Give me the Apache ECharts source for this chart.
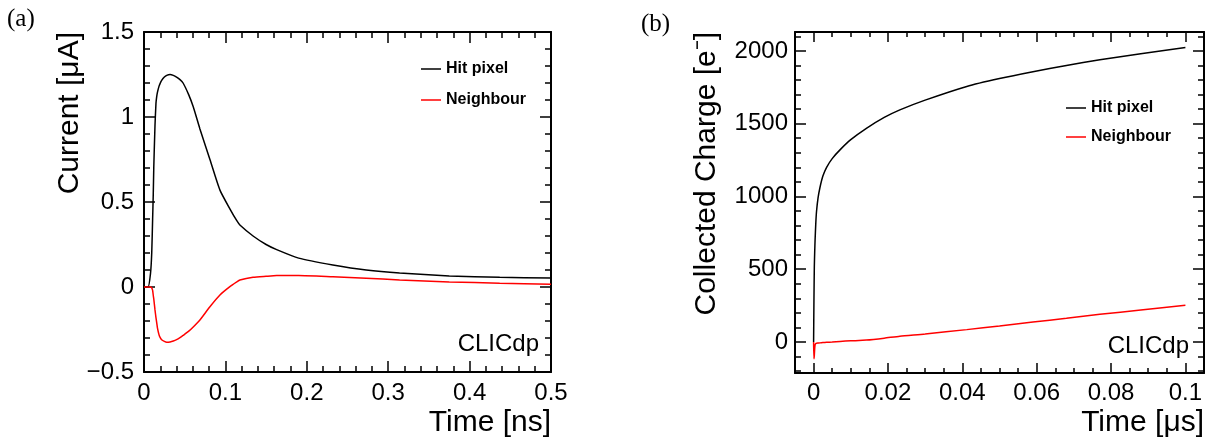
<!DOCTYPE html>
<html><head><meta charset="utf-8">
<script src="https://cdn.jsdelivr.net/npm/echarts@6/dist/echarts.min.js"></script>
<style>html,body{margin:0;padding:0;background:#fff}#c{width:1214px;height:439px}</style>
</head><body><div id="c"></div>
<script>
// ---- Data ----
const seriesNames = ['Hit pixel', 'Neighbour'];
// Panel (a): induced current [uA] vs time [ns]
const timeA = [0, 0.005, 0.008, 0.0095, 0.0106, 0.0114, 0.012, 0.0135, 0.0147, 0.0156, 0.0165, 0.0184, 0.0196, 0.0217, 0.025, 0.0279, 0.032, 0.036, 0.040, 0.0442, 0.048, 0.055, 0.0605, 0.0687, 0.081, 0.0933, 0.1055, 0.114, 0.1178, 0.134, 0.15, 0.163, 0.19, 0.232, 0.273, 0.314, 0.375, 0.437, 0.5];
const hitA = [0, 0, 0.08, 0.2, 0.4, 0.55, 0.7, 0.95, 1.08, 1.12, 1.145, 1.18, 1.195, 1.215, 1.235, 1.245, 1.25, 1.245, 1.235, 1.22, 1.2, 1.13, 1.06, 0.93, 0.75, 0.57, 0.46, 0.39, 0.365, 0.30, 0.25, 0.22, 0.17, 0.13, 0.10, 0.082, 0.065, 0.057, 0.053];
const neighA = [0, 0, 0, -0.005, -0.02, -0.05, -0.07, -0.135, -0.18, -0.21, -0.24, -0.28, -0.295, -0.31, -0.32, -0.325, -0.323, -0.318, -0.31, -0.298, -0.285, -0.26, -0.235, -0.194, -0.116, -0.047, 0.002, 0.03, 0.041, 0.057, 0.063, 0.067, 0.067, 0.06, 0.052, 0.041, 0.03, 0.022, 0.016];
// Panel (b): collected charge [e-] vs time [us]
const timeB = [0, 0.0001, 0.0002, 0.0003, 0.0004, 0.0006, 0.0008, 0.0012, 0.0017, 0.0025, 0.0035, 0.005, 0.0071, 0.01, 0.0142, 0.019, 0.0232, 0.03, 0.0412, 0.05, 0.059, 0.068, 0.077, 0.088, 0.1];
const hitB = [0, 300, 520, 620, 700, 820, 900, 990, 1060, 1140, 1200, 1260, 1320, 1390, 1468, 1543, 1595, 1662, 1756, 1810, 1857, 1900, 1939, 1981, 2024];
const neighB = [0, -115, -90, -45, -20, -10, -8, -7, -6, -4, -2, 0, 4, 8, 13, 26, 40, 55, 85, 110, 137, 163, 190, 220, 252];
// Tick values for panel (b)
const xMajorB = [0, 0.02, 0.04, 0.06, 0.08, 0.1];
const xMinorB = [-0.005, 0.005, 0.01, 0.015, 0.025, 0.03, 0.035, 0.045, 0.05, 0.055, 0.065, 0.07, 0.075, 0.085, 0.09, 0.095, 0.105];
const yMajorB = [0, 500, 1000, 1500, 2000];
const yMinorB = [-200, -100, 100, 200, 300, 400, 600, 700, 800, 900, 1100, 1200, 1300, 1400, 1600, 1700, 1800, 1900, 2100];

// ---- Chart ----
const FONT = '"Liberation Sans", Arial, Helvetica, sans-serif';
const BLACK = '#000';
const RED = '#ff0000';
const tickStyle = { color: BLACK, width: 1.5 };
const lineAx = { show: true, onZero: false, lineStyle: { color: BLACK, width: 2 } };
const labelStyle = { color: BLACK, fontSize: 24, fontFamily: FONT };

function pairs(xs, ys) { return xs.map((x, i) => [x, ys[i]]); }

function axA(dim, pos, showLabel) {
  const isX = dim === 'x';
  return {
    type: 'value', gridIndex: 0, position: pos,
    min: isX ? 0 : -0.5, max: isX ? 0.5 : 1.5, interval: isX ? 0.1 : 0.5,
    axisLine: lineAx,
    axisTick: { show: true, inside: true, length: 11, lineStyle: tickStyle },
    minorTick: { show: true, splitNumber: 5, length: 6, lineStyle: tickStyle },
    splitLine: { show: false }, minorSplitLine: { show: false },
    axisLabel: Object.assign({ show: showLabel, margin: isX ? 9 : 10,
      formatter: v => String(v).replace('-', '\u2212') }, labelStyle)
  };
}
function axB(dim, pos, grid, vals, len, showLabel, showLine) {
  const isX = dim === 'x';
  return {
    type: 'value', gridIndex: grid, position: pos,
    min: isX ? -0.005 : -213, max: isX ? 0.105 : 2130,
    axisLine: showLine ? lineAx : { show: false, onZero: false },
    axisTick: { show: true, inside: true, length: len, lineStyle: tickStyle, customValues: vals },
    minorTick: { show: false },
    splitLine: { show: false },
    axisLabel: Object.assign({ show: showLabel, margin: isX ? 8 : 7, customValues: vals,
      formatter: v => String(v) }, labelStyle)
  };
}

const chart = echarts.init(document.getElementById('c'), null, { renderer: 'canvas' });
const lineSeries = (name, xi, data, color) => ({
  name, type: 'line', xAxisIndex: xi, yAxisIndex: xi, data,
  showSymbol: false, symbol: 'none', smooth: 0.2,
  lineStyle: { color, width: 1.5 }, itemStyle: { color }, z: 3, animation: false
});
const legendBase = {
  orient: 'vertical', icon: 'rect', itemWidth: 20, itemHeight: 1.5, selectedMode: false,
  padding: 0, data: seriesNames,
  textStyle: { color: BLACK, fontWeight: 'bold', fontSize: 16, fontFamily: FONT, lineHeight: 16 }
};

chart.setOption({
  animation: false,
  backgroundColor: '#fff',
  grid: [
    { left: 144, top: 32, width: 407, height: 340, containLabel: false },
    { left: 795, top: 32, width: 409, height: 341, containLabel: false },
    { left: 795, top: 32, width: 409, height: 341, containLabel: false }
  ],
  xAxis: [
    axA('x', 'bottom', true),
    axA('x', 'top', false),
    axB('x', 'bottom', 1, xMajorB, 10, true, true),
    axB('x', 'top', 1, xMajorB, 10, false, true),
    axB('x', 'bottom', 2, xMinorB, 5, false, false),
    axB('x', 'top', 2, xMinorB, 5, false, false)
  ],
  yAxis: [
    axA('y', 'left', true),
    axA('y', 'right', false),
    axB('y', 'left', 1, yMajorB, 11, true, true),
    axB('y', 'right', 1, yMajorB, 11, false, true),
    axB('y', 'left', 2, yMinorB, 6, false, false),
    axB('y', 'right', 2, yMinorB, 6, false, false)
  ],
  legend: [
    Object.assign({ left: 421, top: 61, itemGap: 15 }, legendBase),
    Object.assign({ left: 1066, top: 100, itemGap: 13 }, legendBase)
  ],
  series: [
    lineSeries(seriesNames[0], 0, pairs(timeA, hitA), BLACK),
    lineSeries(seriesNames[1], 0, pairs(timeA, neighA), RED),
    lineSeries(seriesNames[0], 2, pairs(timeB, hitB), BLACK),
    lineSeries(seriesNames[1], 2, pairs(timeB, neighB), RED)
  ],
  graphic: [
    { type: 'text', x: 7, y: 7, style: { text: '(a)', font: '25px "Liberation Serif", "Times New Roman", serif', fill: BLACK } },
    { type: 'text', x: 641, y: 12, style: { text: '(b)', font: '25px "Liberation Serif", "Times New Roman", serif', fill: BLACK } },
    { type: 'text', x: 70, y: 32, rotation: Math.PI / 2, style: { text: 'Current [\u03bcA]', font: '30px ' + FONT, fill: BLACK, align: 'right', verticalAlign: 'middle' } },
    { type: 'text', x: 707, y: 32, rotation: Math.PI / 2, style: { text: 'Collected Charge [e\u207b]', font: '30px ' + FONT, fill: BLACK, align: 'right', verticalAlign: 'middle' } },
    { type: 'text', x: 551, y: 423, style: { text: 'Time [ns]', font: '30px ' + FONT, fill: BLACK, align: 'right', verticalAlign: 'middle' } },
    { type: 'text', x: 1204, y: 423, style: { text: 'Time [\u03bcs]', font: '30px ' + FONT, fill: BLACK, align: 'right', verticalAlign: 'middle' } },
    { type: 'text', x: 539, y: 344, style: { text: 'CLICdp', font: '24px ' + FONT, fill: BLACK, align: 'right', verticalAlign: 'middle' } },
    { type: 'text', x: 1189, y: 346, style: { text: 'CLICdp', font: '24px ' + FONT, fill: BLACK, align: 'right', verticalAlign: 'middle' } }
  ]
});
</script>
</body></html>
